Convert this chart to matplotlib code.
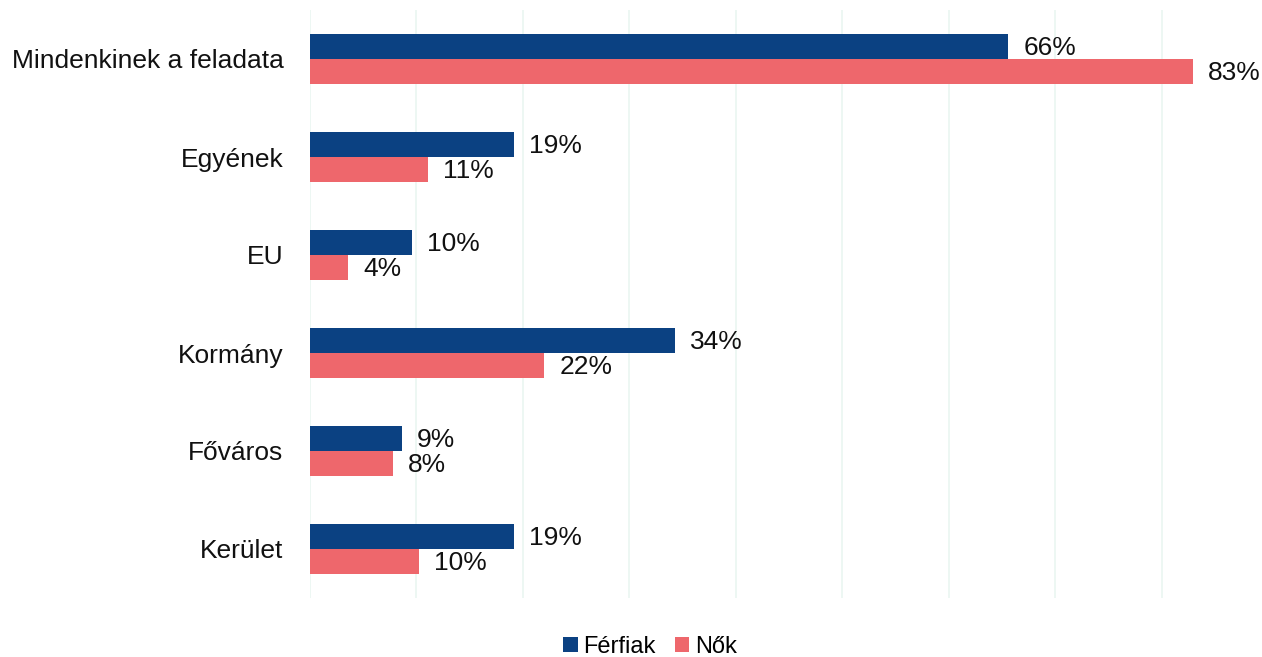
import matplotlib.pyplot as plt
from matplotlib import font_manager as fm
import numpy as np

# pick the regular (not narrow) Liberation Sans file
reg = [f.fname for f in fm.fontManager.ttflist
       if f.name == "Liberation Sans" and "Narrow" not in f.fname
       and f.style == "normal" and f.weight in (400, "normal")]
fp = fm.FontProperties(fname=reg[0]) if reg else fm.FontProperties(family="DejaVu Sans")

categories = ["Mindenkinek a feladata", "Egyének", "EU", "Kormány", "Főváros", "Kerület"]
ferfiak = [65.6, 19.2, 9.6, 34.3, 8.6, 19.2]
nok = [82.9, 11.1, 3.6, 22.0, 7.8, 10.2]
series_names = ["Férfiak", "Nők"]

blue = "#0b4182"
red = "#ee676c"
grid_col = "#eaf6f1"
fs = 19

fig = plt.figure(figsize=(12.62, 6.57), dpi=100)
ax = fig.add_axes([310 / 1262, 1 - 598 / 657, 937 / 1262, 588 / 657])

y = np.arange(len(categories))
h = 0.255
b1 = ax.barh(y - h / 2, ferfiak, height=h, color=blue, label=series_names[0], zorder=3)
b2 = ax.barh(y + h / 2, nok, height=h, color=red, label=series_names[1], zorder=3)

for bars, vals in ((b1, ferfiak), (b2, nok)):
    for rect, v in zip(bars, vals):
        ax.text(v + 1.4, rect.get_y() + rect.get_height() / 2 + 0.02, "%d%%" % int(v + 0.5),
                va="center", ha="left", fontproperties=fp, fontsize=fs, color="#111111")

ax.set_xlim(0, 88)
ax.set_ylim(len(categories) - 0.5, -0.5)
ax.set_xticks(np.arange(0, 81, 10))
ax.set_xticklabels([])
ax.set_yticks(y)
ax.set_yticklabels(categories, fontproperties=fp, fontsize=fs, color="#111111")
ax.tick_params(axis="both", length=0)
ax.tick_params(axis="y", pad=19)
ax.grid(axis="x", color=grid_col, linewidth=1.2, zorder=0)
for s in ax.spines.values():
    s.set_visible(False)

lp = fp.copy()
lp.set_size(17)
fig.legend(loc="center", bbox_to_anchor=(650 / 1262, 1 - 647 / 657), ncol=2, frameon=False,
           prop=lp, handlelength=0.6, handleheight=0.6, handletextpad=0.25, columnspacing=0.8)

fig.savefig("out.png", dpi=100)
